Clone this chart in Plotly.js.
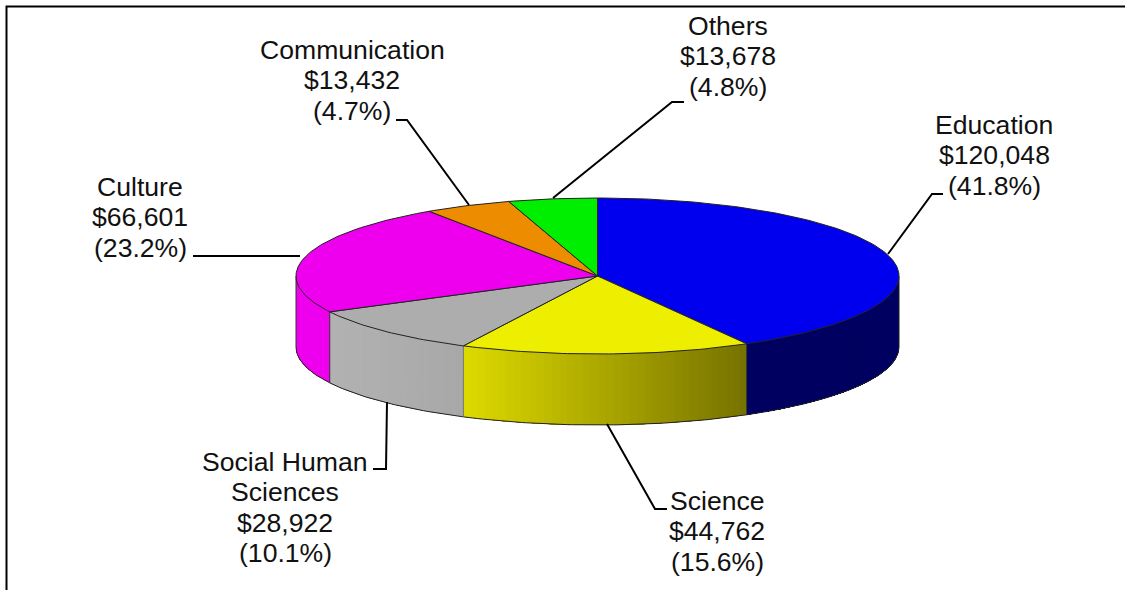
<!DOCTYPE html>
<html>
<head>
<meta charset="utf-8">
<script src="https://cdn.plot.ly/plotly-3.0.1.min.js"></script>
<style>html,body{margin:0;padding:0;background:#fff}#chart{width:1125px;height:590px}</style>
</head>
<body>
<div id="chart"></div>
<script>
// Data, clockwise from twelve o'clock
const categories = [['Education'], ['Science'], ['Social Human', 'Sciences'], ['Culture'], ['Communication'], ['Others']];
const amounts = [120048, 44762, 28922, 66601, 13432, 13678];

// Styles
const topColors = ['#0000EE', '#EEEE00', '#ADADAD', '#EE00EE', '#EE8C00', '#00EE00'];
const sideFrom = [[0,0,96], [222,218,0], [178,178,178], [238,0,238], [238,140,0], [0,238,0]];
const sideTo   = [[0,0,96], [118,114,0], [168,168,168], [238,0,238], [238,140,0], [0,238,0]];

// Layout of the picture: label centre x and y of the first line
const W = 1125, H = 590;
const pie = {cx: 597.5, cy: 276, rx: 301.5, ry: 78, depth: 71};
const labelPos = [[994, 125], [717, 501], [285, 462], [140, 187], [352, 50], [727.5, 26]];
const lineGap = 30.4;
const leaders = [
  [[888, 254], [932, 194], [943, 194]],
  [[607, 424], [655, 509], [667, 509]],
  [[387, 402], [386, 469], [373, 469]],
  [[300, 256], [193, 256]],
  [[469, 205], [407, 120], [396, 120]],
  [[553, 198], [672, 102], [684, 102]]
];

const total = amounts.reduce((a, b) => a + b, 0);
const ptX = t => pie.cx + pie.rx * Math.sin(t);
const ptY = (t, d) => pie.cy - pie.ry * Math.cos(t) + (d || 0);
const rgb = c => 'rgb(' + c.map(Math.round).join(',') + ')';
const STEP = Math.PI / 180;

function arc(a0, a1, d) {
  const n = Math.max(1, Math.ceil(Math.abs(a1 - a0) / STEP));
  const xs = [], ys = [];
  for (let i = 0; i <= n; i++) {
    const t = a0 + (a1 - a0) * i / n;
    xs.push(ptX(t)); ys.push(ptY(t, d));
  }
  return [xs, ys];
}
const base = {type: 'scatter', mode: 'lines', hoverinfo: 'skip', showlegend: false};
const traces = [];
const outlines = [];

let angle = 0;
const spans = amounts.map(v => { const s = [angle, angle + v / total * 2 * Math.PI]; angle = s[1]; return s; });

// Side wall: each band runs to the slice's end, so the next band paints over it with no seam
spans.forEach((s, i) => {
  const a0 = Math.max(s[0], Math.PI / 2), a1 = Math.min(s[1], 3 * Math.PI / 2);
  if (a1 <= a0) return;
  const xa = ptX(a0), xb = ptX(a1);
  const n = Math.ceil((a1 - a0) / (1.5 * STEP));
  for (let k = 0; k < n; k++) {
    const t0 = a0 + (a1 - a0) * k / n, t1 = a0 + (a1 - a0) * (k + 1) / n;
    const f = (ptX((t0 + t1) / 2) - xb) / (xa - xb);
    const col = sideFrom[i].map((c, j) => c + (sideTo[i][j] - c) * f);
    const up = arc(t0, a1, 0), lo = arc(a1, t0, pie.depth);
    traces.push(Object.assign({}, base, {
      x: up[0].concat(lo[0], [up[0][0]]), y: up[1].concat(lo[1], [up[1][0]]), fill: 'toself',
      fillcolor: rgb(col), line: {color: rgb(col), width: 0}
    }));
  }
  const lo = arc(a0, a1, pie.depth);
  outlines.push(Object.assign({}, base, {x: lo[0], y: lo[1], line: {color: '#222', width: 1}}));
  outlines.push(Object.assign({}, base, {
    x: [ptX(a1), ptX(a1)], y: [ptY(a1), ptY(a1, pie.depth)],
    line: {color: i === 1 ? '#777' : '#333', width: 1}
  }));
});
// Right extreme of the wall
outlines.push(Object.assign({}, base, {
  x: [ptX(Math.PI / 2), ptX(Math.PI / 2)], y: [ptY(Math.PI / 2), ptY(Math.PI / 2, pie.depth)],
  line: {color: '#222', width: 1}
}));

// Top face wedges
const tops = spans.map((s, i) => {
  const a = arc(s[0], s[1], 0);
  return Object.assign({}, base, {
    x: [pie.cx].concat(a[0], [pie.cx]), y: [pie.cy].concat(a[1], [pie.cy]),
    fill: 'toself', fillcolor: topColors[i], line: {color: '#222', width: 1}
  });
});

// Leader lines
const leaderTraces = leaders.map(l => Object.assign({}, base, {
  x: l.map(p => p[0]), y: l.map(p => p[1]), line: {color: '#000', width: 2}
}));

// Frame
const frame = Object.assign({}, base, {x: [6.5, 6.5, W], y: [H, 6.5, 6.5], line: {color: '#000', width: 2}});

const annotations = [];
categories.forEach((names, i) => {
  const lines = names.concat(['$' + amounts[i].toLocaleString('en-US'),
    '(' + (amounts[i] / total * 100).toFixed(1) + '%)']);
  lines.forEach((text, k) => annotations.push({
    x: labelPos[i][0], y: labelPos[i][1] + k * lineGap, xref: 'x', yref: 'y', showarrow: false,
    xanchor: 'center', yanchor: 'middle', align: 'center', text: text,
    font: {family: '"Liberation Sans", Arial, sans-serif', size: 26.6, color: '#111'}
  }));
});

Plotly.newPlot('chart', traces.concat(outlines, tops, leaderTraces, [frame]), {
  width: W, height: H, margin: {l: 0, r: 0, t: 0, b: 0},
  paper_bgcolor: '#fff', plot_bgcolor: '#fff', showlegend: false,
  xaxis: {range: [0, W], visible: false, fixedrange: true},
  yaxis: {range: [H, 0], visible: false, fixedrange: true},
  annotations: annotations
}, {displayModeBar: false, staticPlot: true});
</script>
</body>
</html>
